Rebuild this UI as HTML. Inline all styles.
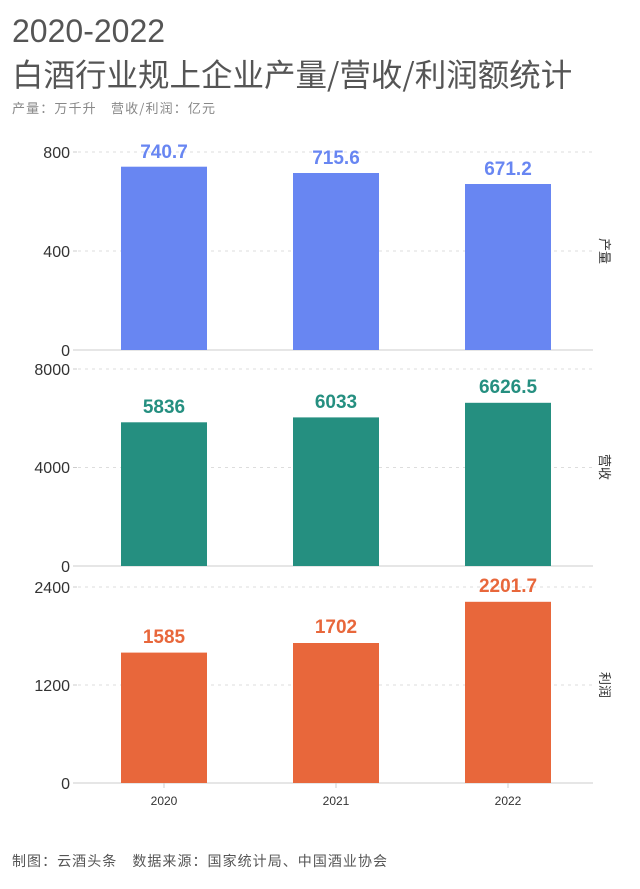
<!DOCTYPE html>
<html><head><meta charset="utf-8"><style>
html,body{margin:0;padding:0;background:#fff;}
svg{display:block;font-family:"Liberation Sans","Noto Sans CJK SC",sans-serif;}
</style></head><body>
<svg width="640" height="889" viewBox="0 0 640 889" xmlns="http://www.w3.org/2000/svg">
<text x="12" y="42" font-size="32" fill="#555">2020-2022</text>
<text x="12" y="86" font-size="31.5" fill="#555" font-family="Noto Sans CJK SC, sans-serif">白酒行业规上企业产量/营收/利润额统计</text>
<text x="12" y="113" font-size="13" fill="#888" font-family="Noto Sans CJK SC, sans-serif" textLength="203">产量：万千升　营收/利润：亿元</text>
<g stroke="#ddd" stroke-dasharray="3,4">
<line x1="78" x2="593" y1="152" y2="152"/><line x1="78" x2="593" y1="251" y2="251"/>
<line x1="78" x2="593" y1="369" y2="369"/><line x1="78" x2="593" y1="467.5" y2="467.5"/>
<line x1="78" x2="593" y1="587" y2="587"/><line x1="78" x2="593" y1="685" y2="685"/>
</g>
<g stroke="#ccc">
<line x1="73" x2="593" y1="350" y2="350"/><line x1="73" x2="593" y1="566" y2="566"/><line x1="73" x2="593" y1="783" y2="783"/>
<line x1="73" x2="77" y1="152" y2="152"/><line x1="73" x2="77" y1="251" y2="251"/>
<line x1="73" x2="77" y1="369" y2="369"/><line x1="73" x2="77" y1="467.5" y2="467.5"/>
<line x1="73" x2="77" y1="587" y2="587"/><line x1="73" x2="77" y1="685" y2="685"/>
<line x1="164" x2="164" y1="783" y2="788"/><line x1="336" x2="336" y1="783" y2="788"/><line x1="508" x2="508" y1="783" y2="788"/>
</g>
<g font-size="16" fill="#333" text-anchor="end">
<text x="70" y="158">800</text><text x="70" y="257">400</text><text x="70" y="356">0</text>
<text x="70" y="375">8000</text><text x="70" y="473">4000</text><text x="70" y="572">0</text>
<text x="70" y="593">2400</text><text x="70" y="691">1200</text><text x="70" y="789">0</text>
</g>
<g fill="#6886f2">
<rect x="121" y="166.7" width="86" height="183.3"/><rect x="293" y="173" width="86" height="177"/><rect x="465" y="184" width="86" height="166"/>
</g>
<g fill="#258f80">
<rect x="121" y="422.3" width="86" height="143.7"/><rect x="293" y="417.4" width="86" height="148.6"/><rect x="465" y="402.8" width="86" height="163.2"/>
</g>
<g fill="#e8673b">
<rect x="121" y="652.6" width="86" height="130.4"/><rect x="293" y="643" width="86" height="140"/><rect x="465" y="601.8" width="86" height="181.2"/>
</g>
<g font-size="19" font-weight="bold" text-anchor="middle">
<g fill="#6886f2"><text x="164" y="158">740.7</text><text x="336" y="164">715.6</text><text x="508" y="175">671.2</text></g>
<g fill="#258f80"><text x="164" y="413">5836</text><text x="336" y="408">6033</text><text x="508" y="393">6626.5</text></g>
<g fill="#e8673b"><text x="164" y="643">1585</text><text x="336" y="633">1702</text><text x="508" y="592">2201.7</text></g>
</g>
<g font-size="12" fill="#333" text-anchor="middle">
<text x="164" y="805">2020</text><text x="336" y="805">2021</text><text x="508" y="805">2022</text>
</g>
<g font-size="13" fill="#333" font-family="Noto Sans CJK SC, sans-serif">
<text transform="translate(600,251) rotate(90)" text-anchor="middle">产量</text>
<text transform="translate(600,467) rotate(90)" text-anchor="middle">营收</text>
<text transform="translate(600,685) rotate(90)" text-anchor="middle">利润</text>
</g>
<text x="12" y="866" font-size="14" fill="#555" font-family="Noto Sans CJK SC, sans-serif" textLength="375">制图：云酒头条　数据来源：国家统计局、中国酒业协会</text>
</svg>
</body></html>
